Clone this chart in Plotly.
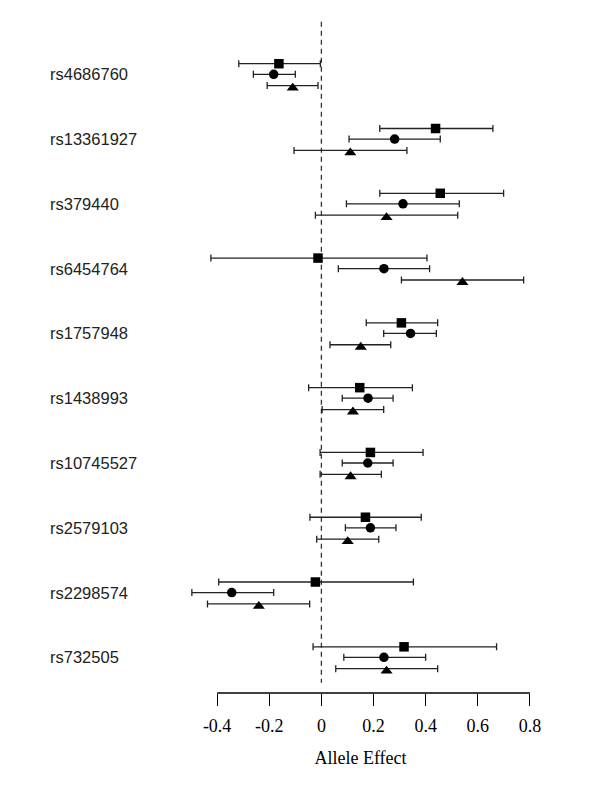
import plotly.graph_objects as go

snps = ['rs4686760', 'rs13361927', 'rs379440', 'rs6454764', 'rs1757948',
        'rs1438993', 'rs10745527', 'rs2579103', 'rs2298574', 'rs732505']

# square study
sq_est = [-0.163, 0.438, 0.456, -0.013, 0.307, 0.147, 0.188, 0.169, -0.023, 0.317]
sq_lo = [-0.317, 0.224, 0.224, -0.424, 0.172, -0.049, -0.005, -0.044, -0.394, -0.032]
sq_hi = [-0.004, 0.658, 0.699, 0.405, 0.446, 0.349, 0.390, 0.383, 0.353, 0.672]

# circle study
ci_est = [-0.183, 0.281, 0.313, 0.240, 0.342, 0.179, 0.178, 0.188, -0.344, 0.240]
ci_lo = [-0.261, 0.106, 0.096, 0.065, 0.239, 0.080, 0.080, 0.092, -0.497, 0.086]
ci_hi = [-0.100, 0.456, 0.529, 0.415, 0.441, 0.275, 0.275, 0.286, -0.183, 0.400]

# triangle study
tr_est = [-0.110, 0.111, 0.250, 0.541, 0.151, 0.121, 0.112, 0.101, -0.240, 0.250]
tr_lo = [-0.208, -0.105, -0.023, 0.307, 0.033, 0.003, -0.005, -0.018, -0.437, 0.055]
tr_hi = [-0.013, 0.328, 0.523, 0.776, 0.266, 0.239, 0.230, 0.220, -0.045, 0.446]

x_ticks = [-0.4, -0.2, 0, 0.2, 0.4, 0.6, 0.8]
x_ticktext = ['-0.4', '-0.2', '0', '0.2', '0.4', '0.6', '0.8']

# (est, lo, hi, symbol, size, row offset, marker nudge so the bar cuts the glyph's middle)
studies = [
    (sq_est, sq_lo, sq_hi, 'square', 9.5, -0.163, 0.0),
    (ci_est, ci_lo, ci_hi, 'circle', 9.5, 0.0, 0.0),
    (tr_est, tr_lo, tr_hi, 'triangle-up', 10.5, 0.175, 0.035),
]

fig = go.Figure()
for est, lo, hi, sym, size, off, nudge in studies:
    ys = [i + off for i in range(len(snps))]
    # interval bars
    fig.add_trace(go.Scatter(
        x=est, y=ys, mode='markers',
        marker=dict(size=1, color='rgba(0,0,0,0)'),
        error_x=dict(type='data', symmetric=False,
                     array=[h - e for e, h in zip(est, hi)],
                     arrayminus=[e - l for e, l in zip(est, lo)],
                     color='#222', thickness=1.3, width=3.5),
        showlegend=False, hoverinfo='skip',
    ))
    # point estimates
    fig.add_trace(go.Scatter(
        x=est, y=[y + nudge for y in ys], mode='markers',
        marker=dict(symbol=sym, size=size, color='black'),
        showlegend=False,
    ))

# dashed reference line at 0
fig.add_shape(type='line', x0=0, x1=0, y0=-0.81, y1=9.39, xref='x', yref='y',
              line=dict(color='#333', width=1.3, dash='5px,4px'), layer='below')
# axis line only across the tick range, like R's axis()
fig.add_shape(type='line', x0=x_ticks[0], x1=x_ticks[-1], y0=0, y1=0, xref='x', yref='paper',
              line=dict(color='black', width=1.3))

for i, name in enumerate(snps):
    fig.add_annotation(x=-0.298, xref='paper', y=i, yref='y', text=name, showarrow=False,
                       xanchor='left', yanchor='middle',
                       font=dict(family='Liberation Sans, Arial', size=16.5, color='#222'))

fig.update_layout(
    width=600, height=785,
    margin=dict(l=165, r=44, t=15, b=92),
    plot_bgcolor='white', paper_bgcolor='white',
    xaxis=dict(range=[-0.6, 0.9], tickvals=x_ticks, ticktext=x_ticktext,
               showgrid=False, zeroline=False, showline=False,
               ticks='outside', ticklen=12, tickwidth=1.3, tickcolor='black',
               ticklabelstandoff=4,
               tickfont=dict(family='Liberation Serif, Times New Roman', size=18, color='black'),
               title=dict(text='Allele Effect', standoff=16,
                          font=dict(family='Liberation Serif, Times New Roman', size=18, color='black'))),
    yaxis=dict(range=[9.55, -0.915], showgrid=False, zeroline=False, showline=False,
               showticklabels=False, ticks=''),
)

fig.write_html('out.html', config={'displayModeBar': False},
               post_script="document.body.style.margin='0';")
